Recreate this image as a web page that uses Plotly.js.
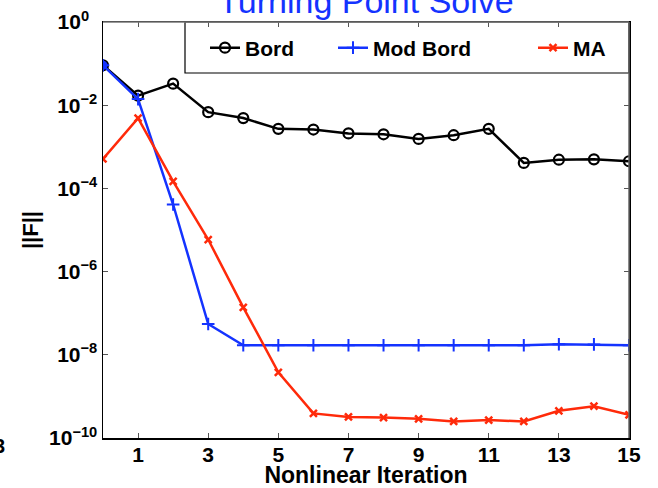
<!DOCTYPE html>
<html><head><meta charset="utf-8">
<script src="https://cdn.plot.ly/plotly-3.0.1.min.js"></script>
<style>html,body{margin:0;padding:0;background:#fff;overflow:hidden}#chart{width:658px;height:488px}</style>
</head><body><div id="chart"></div>
<script>
const iterations = [0,1,2,3,4,5,6,7,8,9,10,11,12,13,14,15];
const bord    = [0.091,0.017,0.033,0.0068,0.0049,0.0027,0.0026,0.0021,0.0020,0.00155,0.0019,0.0027,0.00041,0.00049,0.00050,0.00045];
const modBord = [0.091,0.014,4.1e-5,5.5e-8,1.7e-8,1.7e-8,1.7e-8,1.7e-8,1.7e-8,1.7e-8,1.7e-8,1.7e-8,1.7e-8,1.8e-8,1.78e-8,1.7e-8];
const ma      = [5.1e-4,4.9e-3,1.48e-4,5.9e-6,1.38e-7,3.8e-9,3.9e-10,3.2e-10,3.1e-10,2.9e-10,2.5e-10,2.7e-10,2.5e-10,4.5e-10,5.8e-10,3.6e-10];
const seriesNames = ['Bord','Mod Bord','MA'];
const xTickVals = [1,3,5,7,9,11,13,15];
const yTickVals = [1,1e-2,1e-4,1e-6,1e-8,1e-10];
const yTickText = ['10<sup>0\u00a0\u00a0</sup>','10<sup>\u22122</sup>','10<sup>\u22124</sup>','10<sup>\u22126</sup>','10<sup>\u22128</sup>','10<sup>\u221210</sup>'];

const BLUE = '#1433ff', RED = '#ff2a0a';
const FONT = 'Liberation Sans, Arial, Helvetica, sans-serif';
const W = 658, H = 488, L = 103, R = 29, T = 22, B = 50;
const pw = W - L - R, ph = H - T - B;
const px = v => (v - L) / pw;
const py = v => (H - B - v) / ph;

const traces = [
  {x: iterations, y: bord, name: seriesNames[0], mode: 'lines+markers', legend: 'legend',
   line: {color: '#000', width: 2.5},
   marker: {symbol: 'circle-open', size: 10, color: '#000', line: {width: 2.2, color: '#000'}}},
  {x: iterations, y: modBord, name: seriesNames[1], mode: 'lines+markers', legend: 'legend2',
   line: {color: BLUE, width: 2.5},
   marker: {symbol: 'cross-thin', size: 9, color: BLUE, line: {width: 2, color: BLUE}}},
  {x: [iterations[0]], y: [modBord[0]], mode: 'markers', showlegend: false, hoverinfo: 'skip',
   marker: {symbol: 'circle', size: 9, color: BLUE, line: {width: 0}}},
  {x: iterations, y: ma, name: seriesNames[2], mode: 'lines+markers', legend: 'legend3',
   line: {color: RED, width: 2.5},
   marker: {symbol: 'x-thin', size: 7, color: RED, line: {width: 2.5, color: RED}}}
];

const legFont = {family: FONT, size: 21, color: '#000', weight: 'bold'};
const legBase = {yanchor: 'middle', xanchor: 'left', y: py(48), bgcolor: 'rgba(0,0,0,0)', borderwidth: 0, font: legFont, orientation: 'h'};

const layout = {
  width: W, height: H,
  margin: {l: L, r: R, t: T, b: B},
  paper_bgcolor: '#fff', plot_bgcolor: '#fff',
  showlegend: true,
  title: {text: 'Turning Point Solve', font: {family: FONT, size: 34, color: BLUE},
          xref: 'paper', x: 0.5, xanchor: 'center', yref: 'container', y: 0.998, yanchor: 'middle'},
  xaxis: {range: [0, 15], tickvals: xTickVals, ticks: 'inside', ticklen: 5, tickcolor: '#555',
          showline: true, linecolor: '#000', linewidth: 1.5, mirror: 'ticks', showgrid: false, zeroline: false,
          ticklabelstandoff: -3,
          tickfont: {family: FONT, size: 21, color: '#000', weight: 'bold'},
          title: {text: 'Nonlinear Iteration', font: {family: FONT, size: 23, color: '#000', weight: 'bold'}, standoff: 0}},
  yaxis: {type: 'log', range: [-10, 0], tickvals: yTickVals, ticktext: yTickText, ticks: 'inside', ticklen: 5, tickcolor: '#555',
          showline: true, linecolor: '#000', linewidth: 1.5, mirror: 'ticks', showgrid: false, zeroline: false,
          tickfont: {family: FONT, size: 21, color: '#000', weight: 'bold'},
          title: {text: '||F||', font: {family: FONT, size: 22, color: '#000', weight: 'bold'}, standoff: 4}},
  legend:  Object.assign({}, legBase, {x: px(205)}),
  legend2: Object.assign({}, legBase, {x: px(333)}),
  legend3: Object.assign({}, legBase, {x: px(533)}),
  shapes: [
    {type: 'rect', xref: 'paper', yref: 'paper', x0: px(185), x1: 1, y0: py(73), y1: 1,
     line: {color: '#000', width: 1.2}, fillcolor: '#fff', layer: 'below'},
    {type: 'line', xref: 'paper', yref: 'paper', x0: 0, x1: 1, y0: 1, y1: 1, line: {color: '#777', width: 1.5}},
    {type: 'line', xref: 'paper', yref: 'paper', x0: 1, x1: 1, y0: 0, y1: 1, line: {color: '#666', width: 1.5}}
  ],
  annotations: [
    {text: '3', xref: 'paper', yref: 'paper', x: px(-8), y: py(446), xanchor: 'left', yanchor: 'middle',
     showarrow: false, font: {family: FONT, size: 20, color: '#000', weight: 'bold'}}
  ]
};

Plotly.newPlot('chart', traces, layout, {displayModeBar: false, staticPlot: true});
</script></body></html>
